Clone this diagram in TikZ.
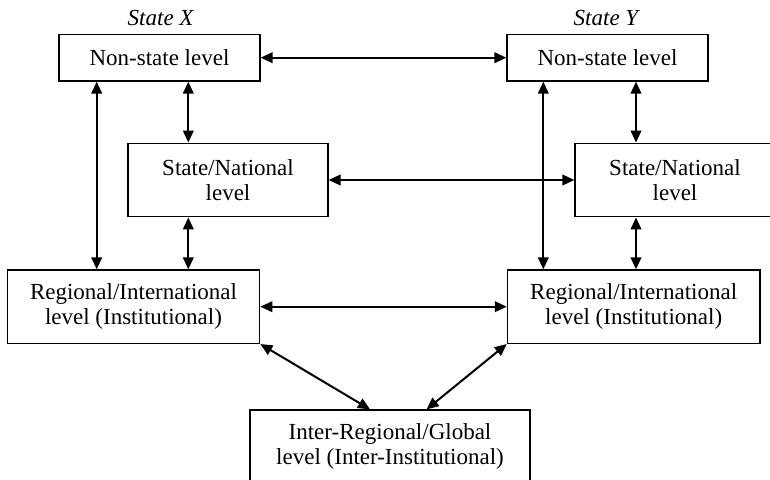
\documentclass[tikz,border=0pt]{standalone}
\usepackage{fontspec}
\setmainfont{Liberation Serif}
\usetikzlibrary{arrows.meta}

\begin{document}
\begin{tikzpicture}[x=0.5pt,y=-0.5pt,
    level/.style={draw, line width=0.65pt, align=center, inner sep=0pt,
        font=\fontsize{11.5}{12.5}\selectfont},
    link/.style={<->, >={Triangle[length=6pt,width=5.3pt]}, line width=1pt}]
\useasboundingbox (0,0) rectangle (770,480);
\clip (0,0) rectangle (770,480);

\coordinate (colXa) at (96.7,0);
        \coordinate (colXb) at (188.3,0);
        \coordinate (colYa) at (543.3,0);
        \coordinate (colYb) at (636,0);

% state X
\node (stX) at (161,18) {\fontsize{11.5}{12.5}\selectfont\textit{State X}};
\node[level, minimum width=100.5pt, minimum height=23.3pt] (nsX) at (159.5,57.7) {Non-state level};
\node[level, minimum width=100pt, minimum height=36.8pt] (snX) at (228,180) {State/National\\level};
\node[level, minimum width=126.2pt, minimum height=36.7pt] (rgX) at (133.5,306.7) {Regional/International\\level (Institutional)};

% state Y
\node (stY) at (607,18) {\fontsize{11.5}{12.5}\selectfont\textit{State Y}};
\node[level, minimum width=100.5pt, minimum height=23.3pt] (nsY) at (607.5,57.7) {Non-state level};
\node[level, minimum width=100pt, minimum height=36.8pt] (snY) at (675,180) {State/National\\level};
\node[level, minimum width=126.3pt, minimum height=36.7pt] (rgY) at (633.7,306.7) {Regional/International\\level (Institutional)};

% global
\node[level, minimum width=140pt, minimum height=36pt] (inter) at (390,446) {Inter-Regional/Global\\level (Inter-Institutional)};

\draw[link] (nsX.south -| colXa) -- (rgX.north -| colXa);
\draw[link] (nsX.south -| colXb) -- (snX.north -| colXb);
\draw[link] (snX.south -| colXb) -- (rgX.north -| colXb);
\draw[link] (nsY.south -| colYa) -- (rgY.north -| colYa);
\draw[link] (nsY.south -| colYb) -- (snY.north -| colYb);
\draw[link] (snY.south -| colYb) -- (rgY.north -| colYb);

\draw[link] (nsX) -- (nsY);
\draw[link] (snX) -- (snY);
\draw[link] (rgX) -- (rgY);
\draw[link] (rgX.south east) -- ([xshift=-10pt]inter.north);
\draw[link] (rgY.south west) -- ([xshift=18.3pt]inter.north);
\end{tikzpicture}
\end{document}
